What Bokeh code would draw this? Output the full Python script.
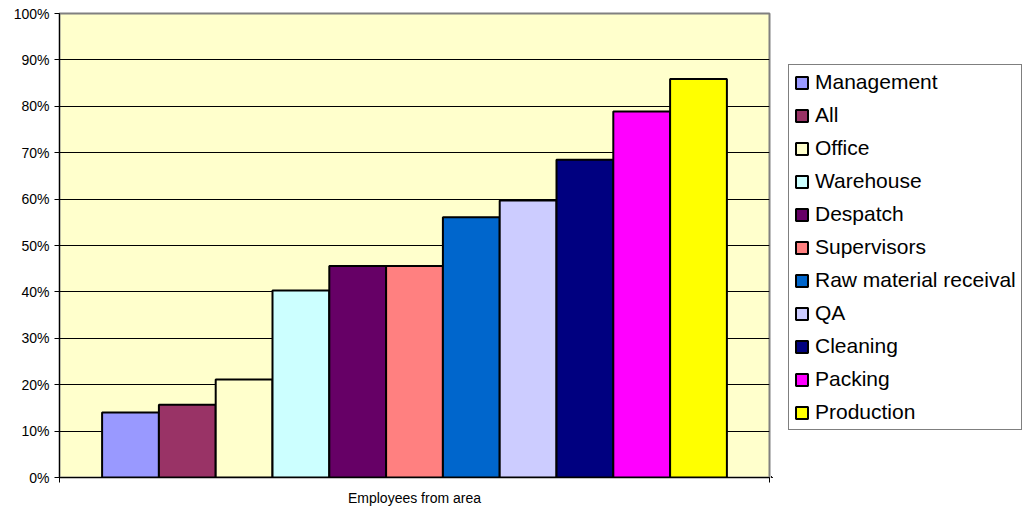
from bokeh.plotting import figure
from bokeh.layouts import row
from bokeh.models import (ColumnDataSource, Range1d, FixedTicker, NumeralTickFormatter,
                          Legend, LegendItem)
from bokeh.embed import file_html
from bokeh.resources import INLINE

# Share of employees per area
areas = ["Management", "All", "Office", "Warehouse", "Despatch", "Supervisors",
         "Raw material receival", "QA", "Cleaning", "Packing", "Production"]
shares = [0.140, 0.157, 0.211, 0.403, 0.456, 0.456, 0.561, 0.597, 0.685, 0.789, 0.859]
colors = ["#9999FF", "#993366", "#FFFFCC", "#CCFFFF", "#660066", "#FF8080",
          "#0066CC", "#CCCCFF", "#000080", "#FF00FF", "#FFFF00"]
y_ticks = [i / 10 for i in range(11)]
x_label = "Employees from area"

FONT = "Liberation Sans"

n = len(areas)
gap = 0.75  # half of a 150% gap on each side of the cluster
x_lo, x_hi = -0.5 - gap, n - 0.5 + gap

source = ColumnDataSource(dict(x=list(range(n)), top=shares, color=colors, area=areas))

p = figure(width=771, height=508, output_backend="svg", toolbar_location=None,
           x_range=Range1d(x_lo, x_hi), y_range=Range1d(0, 1),
           min_border_left=59, min_border_right=2, min_border_top=13,
           min_border_bottom=28)

p.background_fill_color = "#FFFFCC"
p.border_fill_color = "white"
p.outline_line_color = "#808080"
p.outline_line_width = 2

p.vbar(x="x", top="top", width=1.0, bottom=0, source=source,
       fill_color="color", line_color="black", line_width=2)

# y axis
p.yaxis.ticker = FixedTicker(ticks=y_ticks)
p.yaxis.formatter = NumeralTickFormatter(format="0%")
p.yaxis.major_label_text_font = FONT
p.yaxis.major_label_text_font_size = "14px"
p.yaxis.major_label_text_color = "black"
p.yaxis.major_tick_in = 0
p.yaxis.major_tick_out = 5
p.yaxis.minor_tick_line_color = None
p.yaxis.axis_line_color = "black"
p.yaxis.major_tick_line_color = "black"

p.ygrid.ticker = FixedTicker(ticks=y_ticks)
p.ygrid.grid_line_color = "black"
p.ygrid.grid_line_width = 1
p.xgrid.grid_line_color = None

# x axis: a single category with end ticks
p.xaxis.ticker = FixedTicker(ticks=[x_lo, x_hi])
p.xaxis.major_label_overrides = {x_lo: "", x_hi: ""}
p.xaxis.major_label_text_font_size = "1px"
p.xaxis.major_tick_in = 0
p.xaxis.major_tick_out = 5
p.xaxis.minor_tick_line_color = None
p.xaxis.axis_line_color = "black"
p.xaxis.axis_label = x_label
p.xaxis.axis_label_text_font = FONT
p.xaxis.axis_label_text_font_size = "14px"
p.xaxis.axis_label_text_font_style = "normal"
p.xaxis.axis_label_text_color = "black"
p.xaxis.axis_label_standoff = 7

# Legend panel to the right of the chart; its bar renderer sits outside the
# visible ranges so only the legend swatches show
lg = figure(width=252, height=508, output_backend="svg", toolbar_location=None,
            x_axis_type=None, y_axis_type=None, x_range=Range1d(100, 101),
            y_range=Range1d(100, 101), min_border=0)
lg.outline_line_color = None
lg.background_fill_color = "white"
lg.border_fill_color = "white"
lg.xgrid.grid_line_color = None
lg.ygrid.grid_line_color = None

key = lg.vbar(x="x", top="top", width=1.0, bottom=0, source=source,
              fill_color="color", line_color="black", line_width=2)

items = [LegendItem(label=a, renderers=[key], index=i) for i, a in enumerate(areas)]

legend = Legend(items=items, location=(17, 47))
legend.label_text_font = FONT
legend.label_text_font_size = "21px"
legend.label_text_color = "black"
legend.glyph_width = 15
legend.glyph_height = 15
legend.label_standoff = 6
legend.label_height = 21
legend.spacing = 9
legend.padding = 5
legend.margin = 0
legend.border_line_color = "black"
legend.border_line_width = 1
legend.background_fill_color = "white"
legend.background_fill_alpha = 1
lg.add_layout(legend, "center")

layout = row(p, lg, spacing=0)
open("out.html", "w").write(file_html(layout, INLINE))
